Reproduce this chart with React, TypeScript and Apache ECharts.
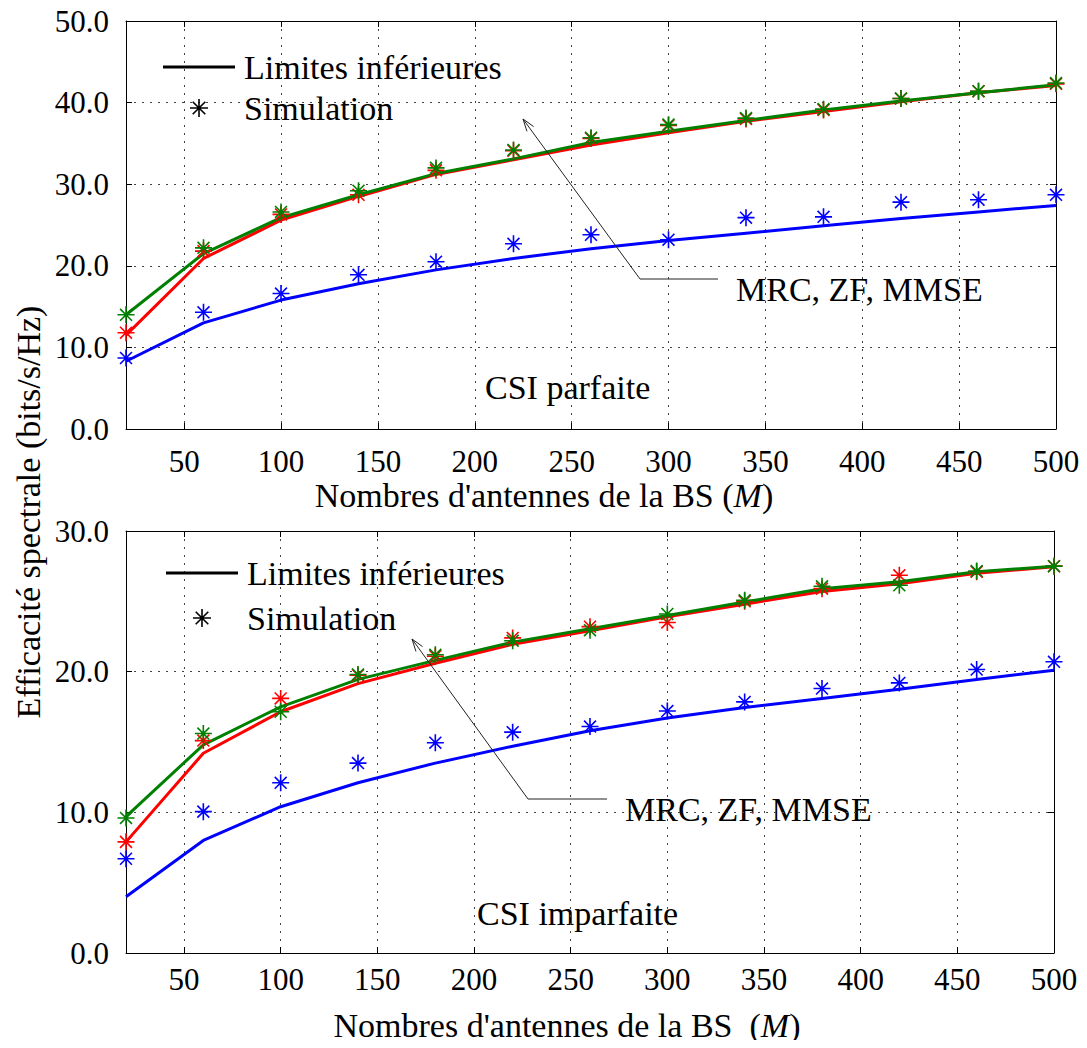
import React, { useEffect, useRef } from "react";
import * as echarts from "echarts";

const FONT = "Liberation Serif";

const antennas = [20, 60, 100, 140, 180, 220, 260, 300, 340, 380, 420, 460, 500];
const xTickValues = [50, 100, 150, 200, 250, 300, 350, 400, 450, 500];

// CSI parfaite
const perfMrcBound = [8.3, 13.0, 15.8, 17.8, 19.5, 20.9, 22.1, 23.1, 24.0, 24.9, 25.8, 26.6, 27.4];
const perfZfBound = [11.5, 20.9, 25.6, 28.5, 31.2, 33.0, 34.8, 36.3, 37.7, 38.9, 40.1, 41.2, 42.1];
const perfMmseBound = [14.0, 21.5, 25.9, 28.7, 31.3, 33.1, 35.1, 36.5, 37.8, 39.1, 40.2, 41.2, 42.2];
const perfMrcSim = [8.7, 14.3, 16.6, 18.9, 20.5, 22.7, 23.8, 23.2, 25.9, 26.0, 27.8, 28.1, 28.7];
const perfZfSim = [11.8, 21.8, 26.3, 28.7, 31.7, 34.1, 35.6, 37.2, 38.0, 39.1, 40.5, 41.4, 42.3];
const perfMmseSim = [14.0, 22.2, 26.6, 29.2, 32.0, 34.2, 35.7, 37.3, 38.1, 39.2, 40.5, 41.4, 42.4];

// CSI imparfaite
const impMrcBound = [4.0, 8.0, 10.4, 12.1, 13.5, 14.7, 15.8, 16.7, 17.45, 18.1, 18.75, 19.45, 20.1];
const impZfBound = [7.9, 14.2, 17.15, 19.15, 20.6, 21.95, 22.9, 23.9, 24.8, 25.7, 26.25, 27.0, 27.45];
const impMmseBound = [9.7, 14.8, 17.5, 19.45, 20.8, 22.1, 23.05, 24.0, 24.95, 25.9, 26.4, 27.1, 27.5];
const impMrcSim = [6.7, 10.05, 12.1, 13.5, 14.95, 15.7, 16.1, 17.2, 17.85, 18.8, 19.2, 20.15, 20.7];
const impZfSim = [7.9, 15.1, 18.1, 19.75, 21.1, 22.4, 23.2, 23.5, 25.0, 25.9, 26.85, 27.1, 27.5];
const impMmseSim = [9.6, 15.6, 17.15, 19.8, 21.2, 22.2, 22.95, 24.1, 25.07, 26.07, 26.14, 27.15, 27.5];

const BLUE = "#0000ff";
const RED = "#ff0000";
const GREEN = "#008000";
const STAR = "path://M10,0L10,20M0,10L20,10M3,3L17,17M3,17L17,3";
const LINE_ICON = "path://M0,0H72V3H0Z";

const pairs = (ys: number[]) => antennas.map((x, i) => [x, ys[i]]);

function lineSeries(name: string, data: number[], color: string, idx: number) {
  return {
    name,
    type: "line",
    xAxisIndex: idx,
    yAxisIndex: idx,
    data: pairs(data),
    symbol: "none",
    color,
    lineStyle: { color, width: 3 },
    z: 3,
  };
}

function simSeries(name: string, data: number[], color: string, idx: number) {
  return {
    name,
    type: "scatter",
    xAxisIndex: idx,
    yAxisIndex: idx,
    data: pairs(data),
    symbol: STAR,
    symbolSize: 17,
    itemStyle: { color, borderColor: color, borderWidth: 1.6, opacity: 1 },
    z: 4,
  };
}

function arrow(tip: number[], from: number[], len = 13, ang = 0.32) {
  const dx = from[0] - tip[0];
  const dy = from[1] - tip[1];
  const d = Math.hypot(dx, dy);
  const ux = dx / d;
  const uy = dy / d;
  const rot = (a: number) => [
    tip[0] + len * (ux * Math.cos(a) - uy * Math.sin(a)),
    tip[1] + len * (ux * Math.sin(a) + uy * Math.cos(a)),
  ];
  return [rot(ang), tip, rot(-ang)];
}

export default function App() {
  const ref = useRef<HTMLDivElement>(null);
  useEffect(() => {
    if (!ref.current) return;
    const chart = echarts.init(ref.current, null, { renderer: "svg" });

    const xAxisCommon = (gridIndex: number) => ({
      type: "value",
      gridIndex,
      min: 20,
      max: 500,
      axisLine: { show: true, lineStyle: { color: "#000", width: 1 } },
      axisTick: { show: true, inside: true, length: 6, customValues: xTickValues, lineStyle: { color: "#000" } },
      axisLabel: {
        customValues: xTickValues,
        color: "#000",
        fontFamily: FONT,
        fontSize: 31,
        margin: gridIndex === 0 ? 17 : 11,
      },
      splitLine: { show: true, lineStyle: { color: "#444", type: [2, 6], width: 1 } },
    });
    const xTop = (gridIndex: number) => ({
      type: "value",
      gridIndex,
      position: "top",
      min: 20,
      max: 500,
      axisLine: { show: true, onZero: false, lineStyle: { color: "#000", width: 1 } },
      axisTick: { show: true, inside: true, length: 6, customValues: xTickValues, lineStyle: { color: "#000" } },
      axisLabel: { show: false },
      splitLine: { show: false },
    });
    const yLeft = (gridIndex: number, max: number) => ({
      type: "value",
      gridIndex,
      min: 0,
      max,
      interval: 10,
      axisLine: { show: true, lineStyle: { color: "#000", width: 1 } },
      axisTick: { show: true, inside: true, length: 6, lineStyle: { color: "#000" } },
      axisLabel: {
        color: "#000",
        fontFamily: FONT,
        fontSize: 31,
        margin: 17,
        formatter: (v: number) => v.toFixed(1),
      },
      splitLine: { show: true, lineStyle: { color: "#444", type: [2, 6], width: 1 } },
    });
    const yRight = (gridIndex: number, max: number) => ({
      type: "value",
      gridIndex,
      position: "right",
      min: 0,
      max,
      interval: 10,
      axisLine: { show: true, onZero: false, lineStyle: { color: "#000", width: 1 } },
      axisTick: { show: true, inside: true, length: 6, lineStyle: { color: "#000" } },
      axisLabel: { show: false },
      splitLine: { show: false },
    });

    const legendCommon = {
      orient: "vertical",
      padding: 0,
      itemWidth: 72,
      itemHeight: 18,
      selectedMode: false,
      textStyle: { color: "#000", fontFamily: FONT, fontSize: 34, padding: [0, 0, 0, 4] },
      data: [
        { name: "Limites inférieures", icon: LINE_ICON, itemStyle: { color: "#000", opacity: 1 } },
        { name: "Simulation", icon: STAR, itemStyle: { color: "#000", borderColor: "#000", borderWidth: 1.6, opacity: 1 } },
      ],
    };

    const topArrowTip = [523, 119];
    const topElbow = [640, 279];
    const topEnd = [718, 279];
    const botArrowTip = [412, 639];
    const botElbow = [528, 799];
    const botEnd = [607, 799];

    const nameStyle = (pad: number) => ({
      color: "#000",
      fontFamily: FONT,
      fontSize: 34,
      padding: [0, pad, 0, 0],
      rich: { it: { fontStyle: "italic", fontFamily: FONT, fontSize: 34, color: "#000" } },
    });

    const textEl = (text: string, x: number, y: number) => ({
      type: "text",
      x,
      y,
      style: { text, fontFamily: FONT, fontSize: 34, fill: "#000", align: "left", verticalAlign: "middle" },
    });

    const option = {
      animation: false,
      backgroundColor: "#fff",
      grid: [
        { left: 126, top: 21, width: 930, height: 408 },
        { left: 126, top: 531, width: 928, height: 422 },
      ],
      xAxis: [
        {
          ...xAxisCommon(0),
          name: "Nombres d'antennes de la BS ({it|M})",
          nameLocation: "middle",
          nameGap: 49,
          nameTextStyle: nameStyle(94),
        },
        {
          ...xAxisCommon(1),
          name: "Nombres d'antennes de la BS\u00a0 ({it|M})",
          nameLocation: "middle",
          nameGap: 55,
          nameTextStyle: nameStyle(46),
        },
        xTop(0),
        xTop(1),
      ],
      yAxis: [yLeft(0, 50), yLeft(1, 30), yRight(0, 50), yRight(1, 30)],
      legend: [
        { ...legendCommon, left: 163, top: 50, itemGap: 7 },
        { ...legendCommon, left: 166, top: 556, itemGap: 11 },
      ],
      series: [
        {
          name: "Limites inférieures",
          type: "line",
          xAxisIndex: 0,
          yAxisIndex: 0,
          data: [],
          symbol: "none",
          color: "#000",
          lineStyle: { color: "#000", width: 3 },
        },
        {
          name: "Simulation",
          type: "scatter",
          xAxisIndex: 0,
          yAxisIndex: 0,
          data: [],
          symbol: STAR,
          itemStyle: { color: "#000", borderColor: "#000", borderWidth: 1.6, opacity: 1 },
        },
        lineSeries("MRC borne (CSI parfaite)", perfMrcBound, BLUE, 0),
        lineSeries("ZF borne (CSI parfaite)", perfZfBound, RED, 0),
        lineSeries("MMSE borne (CSI parfaite)", perfMmseBound, GREEN, 0),
        simSeries("MRC sim (CSI parfaite)", perfMrcSim, BLUE, 0),
        simSeries("ZF sim (CSI parfaite)", perfZfSim, RED, 0),
        simSeries("MMSE sim (CSI parfaite)", perfMmseSim, GREEN, 0),
        lineSeries("MRC borne (CSI imparfaite)", impMrcBound, BLUE, 1),
        lineSeries("ZF borne (CSI imparfaite)", impZfBound, RED, 1),
        lineSeries("MMSE borne (CSI imparfaite)", impMmseBound, GREEN, 1),
        simSeries("MRC sim (CSI imparfaite)", impMrcSim, BLUE, 1),
        simSeries("ZF sim (CSI imparfaite)", impZfSim, RED, 1),
        simSeries("MMSE sim (CSI imparfaite)", impMmseSim, GREEN, 1),
      ],
      graphic: [
        {
          type: "text",
          x: 28,
          y: 512,
          rotation: Math.PI / 2,
          style: {
            text: "Efficacité spectrale (bits/s/Hz)",
            fontFamily: FONT,
            fontSize: 34,
            fill: "#000",
            align: "center",
            verticalAlign: "middle",
          },
        },
        textEl("CSI parfaite", 485, 387),
        textEl("CSI imparfaite", 477, 913),
        textEl("MRC, ZF, MMSE", 736, 289),
        textEl("MRC, ZF, MMSE", 625, 809),
        {
          type: "polyline",
          shape: { points: [topArrowTip, topElbow, topEnd] },
          style: { stroke: "#222", lineWidth: 1, fill: null },
          z: 10,
        },
        {
          type: "polyline",
          shape: { points: arrow(topArrowTip, topElbow) },
          style: { stroke: "#222", lineWidth: 1, fill: null },
          z: 10,
        },
        {
          type: "polyline",
          shape: { points: [botArrowTip, botElbow, botEnd] },
          style: { stroke: "#222", lineWidth: 1, fill: null },
          z: 10,
        },
        {
          type: "polyline",
          shape: { points: arrow(botArrowTip, botElbow) },
          style: { stroke: "#222", lineWidth: 1, fill: null },
          z: 10,
        },
      ],
    };

    chart.setOption(option as any);
    return () => chart.dispose();
  }, []);

  return <div ref={ref} style={{ width: 1087, height: 1048, margin: -8 }} />;
}
